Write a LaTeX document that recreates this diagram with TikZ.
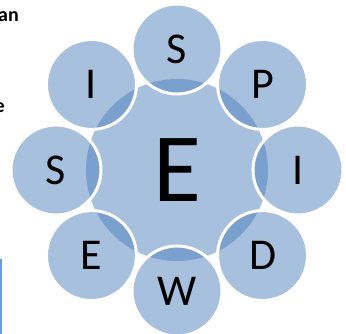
\documentclass[tikz,border=0pt]{standalone}
\usepackage{fontspec}
\setmainfont{Carlito}
\usepackage{tikz}
\usetikzlibrary{positioning}
\definecolor{ringblue}{HTML}{4F81BD}
\definecolor{edgeblue}{HTML}{6A9EE0}

\begin{document}
\begin{tikzpicture}[x=1pt,y=1pt,
  core node/.style={circle,fill=ringblue,fill opacity=.5,text opacity=1,inner sep=0pt,
    minimum size=182pt,font=\fontsize{98}{98}\selectfont},
  leaf node/.style={circle,fill=ringblue,fill opacity=.5,text opacity=1,draw=white,
    line width=3pt,inner sep=0pt,minimum size=90pt,font=\fontsize{44}{44}\selectfont},
  frag node/.style={inner sep=0pt,font=\fontsize{20}{20}\selectfont\bfseries}]

  \useasboundingbox (-177,-164) rectangle (169,170);
  \clip (-177,-164) rectangle (169,170);

  % left margin bits of the page
  \node[frag node] (an) [anchor=base east] at (-158,148) {an};
  \node[frag node] (e) [anchor=base east] at (-172,57) {e};
  \draw[edgeblue,line width=2pt] (-176,-89) -- (-176,-170);

  \node[core node] (E) at (0,0) {E};

  \node[leaf node] (s1) at (90:121) {S};
  \node[leaf node] (p) at (45:121) {P};
  \node[leaf node] (i1) at (0:121) {I};
  \node[leaf node] (d) at (-45:121) {D};
  \node[leaf node] (w) at (-90:121) {W};
  \node[leaf node] (e2) at (-135:121) {E};
  \node[leaf node] (s2) at (180:121) {S};
  \node[leaf node] (i2) at (135:121) {I};
\end{tikzpicture}
\end{document}
